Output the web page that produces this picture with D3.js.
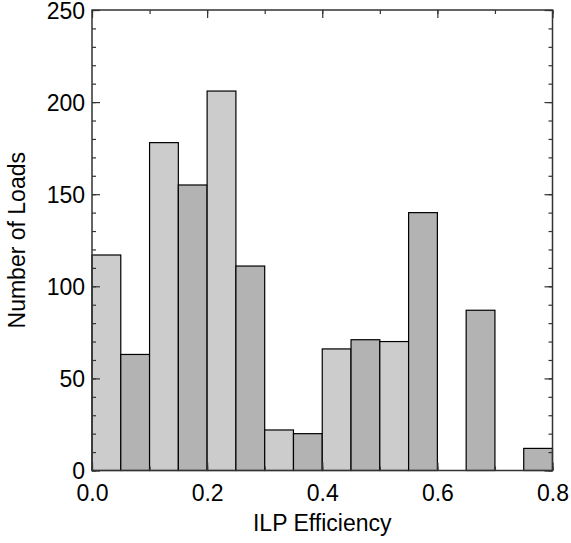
<!DOCTYPE html>
<html><head><meta charset="utf-8">
<script src="https://cdn.jsdelivr.net/npm/d3@7"></script>
<style>body{margin:0;background:#fff}svg{display:block}</style>
</head><body>
<svg id="c" width="571" height="543"></svg>
<script>
const binStarts = [0.00,0.05,0.10,0.15,0.20,0.25,0.30,0.35,0.40,0.45,0.50,0.55,0.60,0.65,0.70,0.75];
const counts    = [117, 63, 178, 155, 206, 111, 22, 20, 66, 71, 70, 140, 0, 87, 0, 12];
const binWidth = 0.05;
const xTicks = [0.0, 0.2, 0.4, 0.6, 0.8];
const yTicks = [0, 50, 100, 150, 200, 250];
const xLabel = "ILP Efficiency";
const yLabel = "Number of Loads";

const L = 92, R = 552.5, T = 10, B = 470.5;
const svg = d3.select("#c");
const x = d3.scaleLinear().domain([0, 0.8]).range([L, R]);
const y = d3.scaleLinear().domain([0, 250]).range([B, T]);
const font = "Liberation Sans, Arial, Helvetica, sans-serif";

// bars
svg.append("g").selectAll("rect").data(binStarts).join("rect")
  .attr("x", d => x(d))
  .attr("width", (d) => x(d + binWidth) - x(d))
  .attr("y", (d, i) => y(counts[i]))
  .attr("height", (d, i) => y(0) - y(counts[i]))
  .attr("fill", (d, i) => i % 2 === 0 ? "#cccccc" : "#b3b3b3")
  .attr("stroke", "#000").attr("stroke-width", 1.2);

const axisColor = "#333";
function styleAxis(g) {
  g.select(".domain").remove();
  g.selectAll("line").attr("stroke", axisColor).attr("stroke-width", 1.2);
}
const xMinor = d3.range(0, 0.801, 0.1);
const yMinor = d3.range(0, 251, 10);

// bottom
svg.append("g").attr("transform", `translate(0,${B})`)
  .call(d3.axisBottom(x).tickValues(xMinor).tickSize(-4).tickFormat("")).call(styleAxis);
svg.append("g").attr("transform", `translate(0,${B})`)
  .call(d3.axisBottom(x).tickValues(xTicks).tickSize(-8).tickPadding(20).tickFormat(d3.format(".1f")))
  .call(styleAxis)
  .call(g => g.selectAll("text").attr("font-family", font).attr("font-size", 23).attr("fill", "#000").attr("dy", null).attr("y", 30));
// top
svg.append("g").attr("transform", `translate(0,${T})`)
  .call(d3.axisTop(x).tickValues(xMinor).tickSize(-4).tickFormat("")).call(styleAxis);
svg.append("g").attr("transform", `translate(0,${T})`)
  .call(d3.axisTop(x).tickValues(xTicks).tickSize(-8).tickFormat("")).call(styleAxis);
// left
svg.append("g").attr("transform", `translate(${L},0)`)
  .call(d3.axisLeft(y).tickValues(yMinor).tickSize(-4).tickFormat("")).call(styleAxis);
svg.append("g").attr("transform", `translate(${L},0)`)
  .call(d3.axisLeft(y).tickValues(yTicks).tickSize(-8).tickFormat(d3.format("d")))
  .call(styleAxis)
  .call(g => g.selectAll("text").attr("font-family", font).attr("font-size", 23).attr("fill", "#000").attr("x", -7).attr("dy", "0.35em"));
// right
svg.append("g").attr("transform", `translate(${R},0)`)
  .call(d3.axisRight(y).tickValues(yMinor).tickSize(-4).tickFormat("")).call(styleAxis);
svg.append("g").attr("transform", `translate(${R},0)`)
  .call(d3.axisRight(y).tickValues(yTicks).tickSize(-8).tickFormat("")).call(styleAxis);

// frame
svg.append("rect").attr("x", L).attr("y", T).attr("width", R - L).attr("height", B - T)
  .attr("fill", "none").attr("stroke", axisColor).attr("stroke-width", 1.5);

// labels
svg.append("text").attr("x", (L + R) / 2).attr("y", 531).attr("text-anchor", "middle")
  .attr("font-family", font).attr("font-size", 23).attr("fill", "#000").text(xLabel);
svg.append("text").attr("transform", `translate(25,${(T + B) / 2}) rotate(-90)`).attr("text-anchor", "middle")
  .attr("font-family", font).attr("font-size", 23).attr("fill", "#000").text(yLabel);
</script>
</body></html>
